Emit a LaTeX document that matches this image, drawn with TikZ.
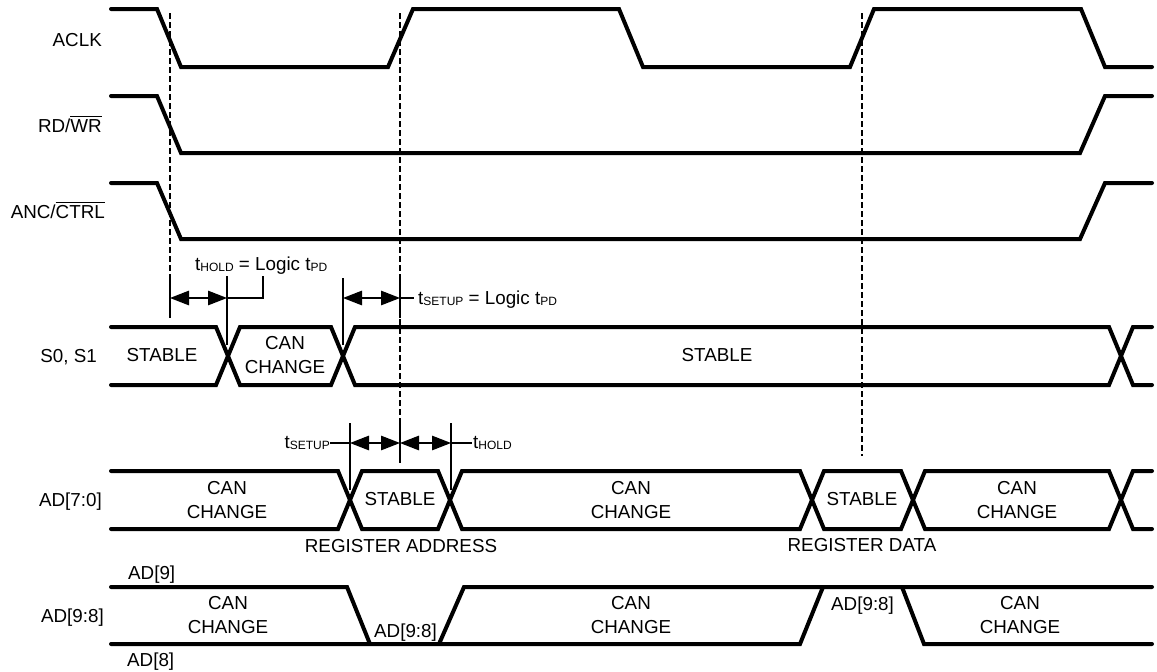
\documentclass[tikz,border=0pt]{standalone}
\usepackage{fontspec}
\setmainfont{Liberation Sans}
\usetikzlibrary{arrows.meta}
\newcommand\tsub[1]{\raisebox{-1.8pt}{\fontsize{12}{12}\selectfont #1}}
\newcommand\ovl[1]{{\setbox0\hbox{#1}\rlap{\rule[\dimexpr\ht0+1.6pt\relax]{\wd0}{1.1pt}}\box0}}
\begin{document}
\begin{tikzpicture}[x=1pt,y=-1pt,
  font=\fontsize{18.8}{24}\selectfont,
  sig/.style={line width=4pt, line join=miter, line cap=round},
  tick/.style={line width=1.3pt},
  dsh/.style={line width=1.4pt, dash pattern=on 6pt off 3pt},
  dim/.style={line width=1.3pt, {Triangle[length=19pt,width=14.5pt]}-{Triangle[length=19pt,width=14.5pt]}},
  lbl/.style={inner sep=0pt, anchor=base east},
  lblw/.style={inner sep=0pt, anchor=base west},
  txt/.style={inner sep=0pt, align=center, anchor=center}]
\useasboundingbox (0,0) rectangle (1157,672);

% ---------- row labels ----------
\node[lbl] (lA) at (102,46) {ACLK};
\node[lbl] (lR) at (102,132) {RD/\ovl{WR}};
\node[lbl] (lC) at (105,218) {ANC/\ovl{CTRL}};
\node[lbl] (lS) at (97,362) {S0, S1};
\node[lbl] (lD) at (102,506) {AD[7:0]};
\node[lbl] (lE) at (104,622) {AD[9:8]};
\node[lblw] (l9) at (128,579) {AD[9]};
\node[lblw] (l8) at (127,666) {AD[8]};

% ---------- dashed reference lines ----------
\coordinate (d1t) at (170,13); \coordinate (d1b) at (170,279);
\coordinate (d2t) at (400,13); \coordinate (d2b) at (400,423);
\coordinate (d3t) at (862,13); \coordinate (d3b) at (862,456);
\draw[dsh] (d1t) -- (d1b);
\draw[dsh] (d2t) -- (d2b);
\draw[dsh] (d3t) -- (d3b);

% ---------- single signals ----------
\draw[sig] (111,9) -- (157,9) -- (181,67) -- (388,67) -- (413,9) -- (619,9) -- (643,67)
  -- (850,67) -- (874,9) -- (1081,9) -- (1105,67) -- (1152,67);
\draw[sig] (111,96) -- (157,96) -- (181,153) -- (1080,153) -- (1105,96) -- (1152,96);
\draw[sig] (111,183) -- (157,183) -- (181,239) -- (1080,239) -- (1105,183) -- (1152,183);

% ---------- S0, S1 bus ----------
\draw[sig] (111,327) -- (216,327) -- (240,385) -- (331,385) -- (355,327) -- (1109,327) -- (1133,385) -- (1152,385);
\draw[sig] (111,385) -- (216,385) -- (240,327) -- (331,327) -- (355,385) -- (1109,385) -- (1133,327) -- (1152,327);
\node[txt] (s1) at (162,355) {STABLE};
\node[txt] (s2) at (285,355) {CAN\\CHANGE};
\node[txt] (s3) at (717,355) {STABLE};

% ---------- AD[7:0] bus ----------
\draw[sig] (111,471) -- (338,471) -- (362,529) -- (438,529) -- (462,471) -- (800,471) -- (824,529)
  -- (901,529) -- (925,471) -- (1109,471) -- (1133,529) -- (1152,529);
\draw[sig] (111,529) -- (338,529) -- (362,471) -- (438,471) -- (462,529) -- (800,529) -- (824,471)
  -- (901,471) -- (925,529) -- (1109,529) -- (1133,471) -- (1152,471);
\node[txt] (a1) at (227,500) {CAN\\CHANGE};
\node[txt] (a2) at (400,499) {STABLE};
\node[txt] (a3) at (631,500) {CAN\\CHANGE};
\node[txt] (a4) at (862,499) {STABLE};
\node[txt] (a5) at (1017,500) {CAN\\CHANGE};
\node[txt] (ra) at (401,546) {REGISTER ADDRESS};
\node[txt] (rd) at (862,545) {REGISTER DATA};

% ---------- AD[9:8] ----------
\draw[sig] (111,587) -- (347,587) -- (370,644);
\draw[sig] (111,644) -- (800,644) -- (823,587);
\draw[sig] (439,644) -- (464,587) -- (1152,587);
\draw[sig] (902,587) -- (924,644) -- (1152,644);
\node[txt] (b1) at (228,615) {CAN\\CHANGE};
\node[lblw] (b2) at (374,637) {AD[9:8]};
\node[txt] (b3) at (631,615) {CAN\\CHANGE};
\node[lblw] (b4) at (831,610) {AD[9:8]};
\node[txt] (b5) at (1020,615) {CAN\\CHANGE};

% ---------- upper timing annotations ----------
\coordinate (u1t) at (170,279); \coordinate (u1b) at (170,318); \coordinate (u1) at (170,298);
\coordinate (u2t) at (227,276); \coordinate (u2b) at (227,345); \coordinate (u2) at (227,298);
\coordinate (u3t) at (343,278); \coordinate (u3b) at (343,345); \coordinate (u3) at (343,298);
\coordinate (u4t) at (400,279); \coordinate (u4b) at (400,318); \coordinate (u4) at (400,298);
\draw[tick] (u1t) -- (u1b);
\draw[tick] (u2t) -- (u2b);
\draw[tick] (u3t) -- (u3b);
\draw[tick] (u4t) -- (u4b);
\draw[dim] (u1) -- (u2);
\draw[dim] (u3) -- (u4);
\node[lblw] (th) at (195,270) {t\tsub{HOLD} = Logic t\tsub{PD}};
\coordinate (thk) at (263,276);
\draw[tick] (u2) -| (thk);
\node[lblw] (ts) at (418,304) {t\tsub{SETUP} = Logic t\tsub{PD}};
\coordinate (tsk) at (414,298);
\draw[tick] (u4) -- (tsk);

% ---------- lower timing annotations ----------
\coordinate (w1t) at (350,423); \coordinate (w1b) at (350,490); \coordinate (w1) at (350,443);
\coordinate (w2t) at (400,423); \coordinate (w2b) at (400,463); \coordinate (w2) at (400,443);
\coordinate (w3t) at (451,423); \coordinate (w3b) at (451,490); \coordinate (w3) at (451,443);
\draw[tick] (w1t) -- (w1b);
\draw[tick] (w2t) -- (w2b);
\draw[tick] (w3t) -- (w3b);
\draw[dim] (w1) -- (w2);
\draw[dim] (w2) -- (w3);
\node[lbl] (ls) at (330,448) {t\tsub{SETUP}};
\node[lblw] (lh) at (473,448) {t\tsub{HOLD}};
\coordinate (lsk) at (330,443); \coordinate (lhk) at (472,443);
\draw[tick] (lsk) -- (w1);
\draw[tick] (w3) -- (lhk);
\end{tikzpicture}
\end{document}
